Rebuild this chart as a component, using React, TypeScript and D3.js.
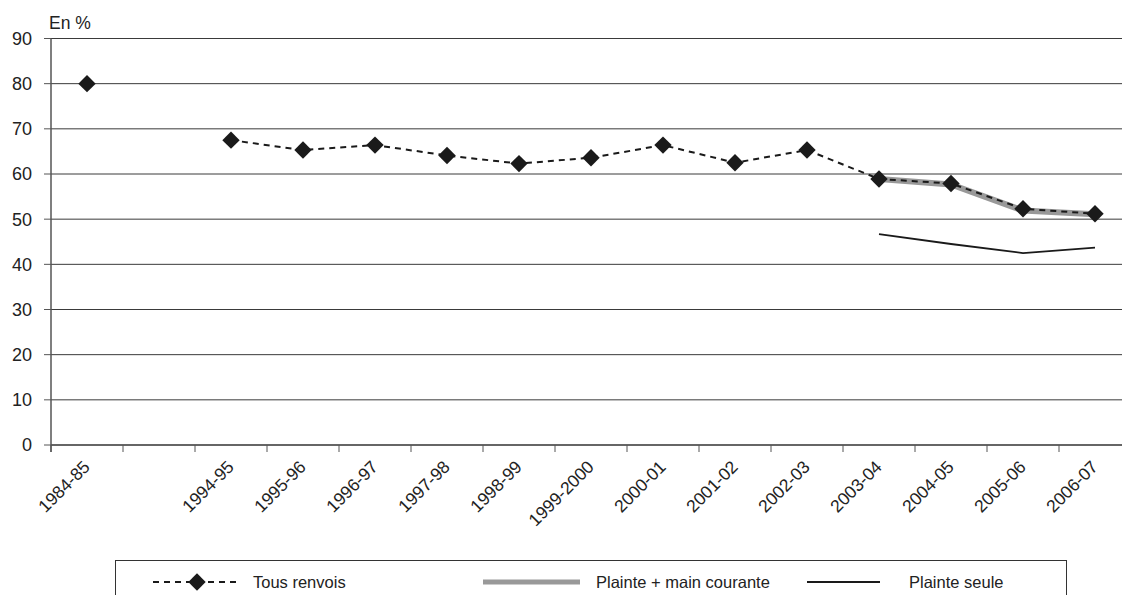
import React from "react";
import * as d3 from "d3";

// School years on the horizontal axis; the blank slot marks the break in the series.
const categories = [
  "1984-85", " ", "1994-95", "1995-96", "1996-97", "1997-98", "1998-99",
  "1999-2000", "2000-01", "2001-02", "2002-03", "2003-04", "2004-05", "2005-06", "2006-07",
];

// Share of cases referred (in %)
const tousRenvois: (number | null)[] = [
  80.0, null, 67.5, 65.3, 66.4, 64.1, 62.3, 63.6, 66.4, 62.5, 65.3, 58.9, 57.9, 52.3, 51.2,
];
const plainteMainCourante: (number | null)[] = [
  null, null, null, null, null, null, null, null, null, null, null, 58.9, 57.7, 51.9, 51.1,
];
const plainteSeule: (number | null)[] = [
  null, null, null, null, null, null, null, null, null, null, null, 46.7, 44.5, 42.5, 43.7,
];

const yTicks = [0, 10, 20, 30, 40, 50, 60, 70, 80, 90];

const W = 1122;
const H = 595;
const FONT = "'Liberation Sans', Arial, Helvetica, sans-serif";

export default function App() {
  const x = d3.scaleBand<string>().domain(categories).range([51, 1131]).padding(0);
  const y = d3.scaleLinear().domain([0, 90]).range([445, 38.5]);
  const cx = (i: number) => (x(categories[i]) as number) + x.bandwidth() / 2;

  const line = d3
    .line<number | null>()
    .defined((d) => d !== null)
    .x((_, i) => cx(i))
    .y((d) => y(d as number));

  const diamond = (px: number, py: number, r: number) =>
    `M${px},${py - r}L${px + r},${py}L${px},${py + r}L${px - r},${py}Z`;

  const boundaries = categories.map((c) => x(c) as number);

  return (
    <svg
      width={W}
      height={H}
      style={{ position: "absolute", left: 0, top: 0, background: "#fff" }}
      fontFamily={FONT}
    >
      {/* horizontal gridlines */}
      {yTicks.map((t) => (
        <line key={"g" + t} x1={51} x2={W} y1={y(t)} y2={y(t)} stroke="#3a3a3a" strokeWidth={1} />
      ))}
      {/* y axis */}
      <line x1={51} x2={51} y1={y(90)} y2={452} stroke="#555" strokeWidth={1.5} />
      {yTicks.map((t) => (
        <g key={"yt" + t}>
          <line x1={44} x2={51} y1={y(t)} y2={y(t)} stroke="#555" strokeWidth={1} />
          <text x={32} y={y(t)} dy="0.36em" textAnchor="end" fontSize={18} fill="#222">
            {t}
          </text>
        </g>
      ))}
      <text x={49} y={29} fontSize={17.5} fill="#222">En %</text>

      {/* x axis */}
      <line x1={51} x2={W} y1={y(0)} y2={y(0)} stroke="#555" strokeWidth={1.5} />
      {boundaries.map((b, i) => (
        <line key={"xt" + i} x1={b} x2={b} y1={y(0)} y2={452} stroke="#555" strokeWidth={1} />
      ))}
      {categories.map((c, i) =>
        c.trim() ? (
          <text
            key={"xl" + i}
            transform={`translate(${cx(i) + 4},${468}) rotate(-45)`}
            textAnchor="end"
            fontSize={17.5}
            fill="#222"
          >
            {c}
          </text>
        ) : null
      )}

      {/* series */}
      <path d={line(plainteMainCourante) || ""} fill="none" stroke="#999" strokeWidth={6} />
      <path d={line(plainteSeule) || ""} fill="none" stroke="#1a1a1a" strokeWidth={1.8} />
      <path
        d={line(tousRenvois) || ""}
        fill="none"
        stroke="#1a1a1a"
        strokeWidth={2}
        strokeDasharray="6,5"
      />
      {tousRenvois.map((v, i) =>
        v === null ? null : <path key={"d" + i} d={diamond(cx(i), y(v), 8.7)} fill="#1a1a1a" />
      )}

      {/* legend */}
      <rect x={115.5} y={560.5} width={951} height={60} fill="none" stroke="#333" strokeWidth={1} />
      <line x1={153} x2={237} y1={582} y2={582} stroke="#1a1a1a" strokeWidth={2} strokeDasharray="6,5" />
      <path d={diamond(197, 582, 8.7)} fill="#1a1a1a" />
      <text x={253} y={582} dy="0.36em" fontSize={16.5} fill="#222">Tous renvois</text>
      <line x1={483} x2={580} y1={582} y2={582} stroke="#999" strokeWidth={5} />
      <text x={596} y={582} dy="0.36em" fontSize={16.5} fill="#222">Plainte + main courante</text>
      <line x1={807} x2={880} y1={582} y2={582} stroke="#1a1a1a" strokeWidth={1.8} />
      <text x={909} y={582} dy="0.36em" fontSize={16.5} fill="#222">Plainte seule</text>
    </svg>
  );
}
